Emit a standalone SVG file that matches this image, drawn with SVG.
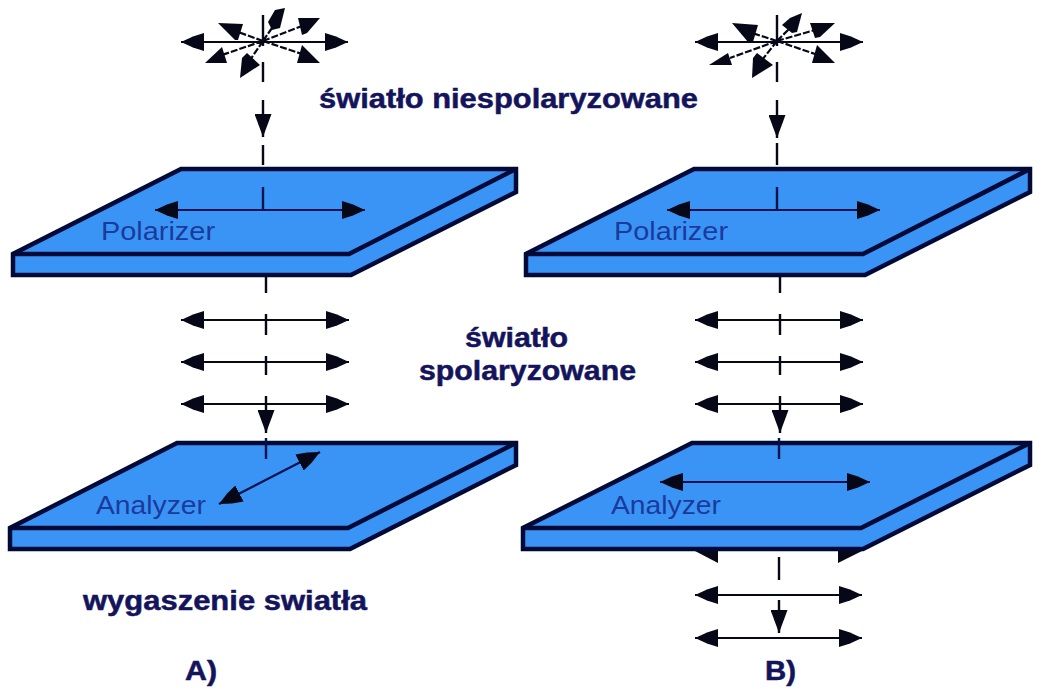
<svg xmlns="http://www.w3.org/2000/svg" width="1051" height="690" viewBox="0 0 1051 690">
<style>
.plate{fill:#3a94f6;stroke:#000a38;stroke-width:4.5;stroke-linejoin:miter}
.edge{fill:none;stroke:#000a38;stroke-width:4.5}
.a{fill:none;stroke:#060818;stroke-width:2.2;marker-start:url(#h);marker-end:url(#h)}
.d{fill:none;stroke:#060818;stroke-width:2.2;stroke-dasharray:7 2}
.f{fill:#060818}
.v{fill:none;stroke:#060818;stroke-width:2.4}
.w{fill:none;stroke:#060818;stroke-width:2.4;marker-end:url(#v)}
.n{fill:none;stroke:#04124e;stroke-width:2.2;marker-start:url(#h);marker-end:url(#h)}
.lab{font-family:"Liberation Sans",Arial,sans-serif;font-size:26px;fill:#1b3a9c}
.t{font-family:"Liberation Sans",Arial,sans-serif;font-weight:bold;font-size:27px;fill:#14145c;stroke:#14145c;stroke-width:.5}
</style>
<defs>
<marker id="h" markerUnits="userSpaceOnUse" markerWidth="24" markerHeight="18" refX="23" refY="9" orient="auto-start-reverse"><path d="M0 0L11 3.5 23 9 11 14.5 0 18z" fill="#060818"/></marker>
<marker id="v" markerUnits="userSpaceOnUse" markerWidth="24" markerHeight="17" refX="23" refY="8.5" orient="auto"><path d="M0 0L23 8.5 0 17z" fill="#060818"/></marker>
</defs>
<rect width="1051" height="690" fill="#fff"/>
<g id="polarizer-a">
<path class="plate" d="M181 169H516V192L351 275H13V254Z"/><path class="edge" d="M13 254H349L516 169"/>
<text class="lab" x="101" y="240" textLength="114" lengthAdjust="spacingAndGlyphs">Polarizer</text>
</g>
<g id="polarizer-b">
<path class="plate" d="M694 169H1030V192L865 275H526V254Z"/><path class="edge" d="M526 254H863L1030 169"/>
<text class="lab" x="614" y="240" textLength="114" lengthAdjust="spacingAndGlyphs">Polarizer</text>
</g>
<g id="analyzer-a">
<path class="plate" d="M177 443H516V465L350 549H10V528Z"/><path class="edge" d="M10 528H348L516 443"/>
<text class="lab" x="96" y="514" textLength="110" lengthAdjust="spacingAndGlyphs">Analyzer</text>
</g>
<g id="analyzer-b">
<path class="plate" d="M692 443H1030V465L863 549H523V528Z"/><path class="edge" d="M523 528H861L1030 443"/>
<text class="lab" x="611" y="514" textLength="110" lengthAdjust="spacingAndGlyphs">Analyzer</text>
</g>
<g id="labels">
<text class="t" x="319" y="108" textLength="379" lengthAdjust="spacingAndGlyphs">światło niespolaryzowane</text>
<text class="t" x="465" y="347" textLength="103" lengthAdjust="spacingAndGlyphs">światło</text>
<text class="t" x="419" y="380" textLength="217" lengthAdjust="spacingAndGlyphs">spolaryzowane</text>
<text class="t" x="83" y="610" textLength="284" lengthAdjust="spacingAndGlyphs">wygaszenie swiatła</text>
<text class="t" x="185" y="680" textLength="32" lengthAdjust="spacingAndGlyphs">A)</text>
<text class="t" x="765" y="680" textLength="31" lengthAdjust="spacingAndGlyphs">B)</text>
</g>
<g id="connectors">
<path class="a" d="M181 42H348"/>
<path class="d" d="M263 41L272 28M263 41L302 26M263 41L238 32M263 41L222 55M263 41L250 60M263 41L302 54"/>
<polygon class="f" points="285,8 275,10 268,22 272,30 280,28"/><polygon class="f" points="320,18 298,18 302,35 307,33"/><polygon class="f" points="218,23 243,24 238,40 235,40"/><polygon class="f" points="205,63 227,63 222,47"/><polygon class="f" points="240,78 260,65 247,53 242,58"/><polygon class="f" points="320,63 297,63 302,45"/>
<path class="v" d="M263 15V46M263 62V82M263 145V165"/><path class="w" d="M263 100V137"/>
<path class="a" d="M695 42H863"/>
<path class="d" d="M777 41L790 28M777 41L815 30M777 41L752 33M777 41L730 58M777 41L762 60M777 41L815 54"/>
<polygon class="f" points="802,13 790,18 782,25 792,33 797,32"/><polygon class="f" points="835,23 810,23 815,38 820,37"/><polygon class="f" points="732,23 758,25 753,42 748,42"/><polygon class="f" points="709,65 732,65 728,53"/><polygon class="f" points="752,78 773,65 757,53 753,58"/><polygon class="f" points="835,63 812,63 817,45"/>
<path class="v" d="M777 15V46M777 62V82M777 143V165"/><path class="w" d="M777 100V138"/>
<path class="v" style="stroke:#04124e" d="M263 187V209M777 187V209M266 438V459M779 438V459"/>
<path class="n" d="M155 210H365"/><path class="n" d="M667 210H880"/><path class="n" d="M219 504L320 452"/><path class="n" d="M660 482H870"/>
<path class="v" d="M266 276V293M266 314V335M266 356V375M780 276V293M780 314V335M780 356V375"/>
<path class="a" d="M181 320H349"/><path class="a" d="M181 362H349"/><path class="a" d="M181 404H349"/>
<path class="a" d="M695 320H863"/><path class="a" d="M695 362H863"/><path class="a" d="M695 404H863"/>
<path class="w" d="M266 396V433"/><path class="w" d="M780 396V433"/>
<path class="a" d="M695 595H862"/><path class="a" d="M695 638H862"/>
<path class="v" d="M779 557V580"/><path class="w" d="M779 600V633"/>
<polygon class="f" points="695,551 718,551 718,563"/><polygon class="f" points="862,551 838,551 838,563"/>
</g>
</svg>
